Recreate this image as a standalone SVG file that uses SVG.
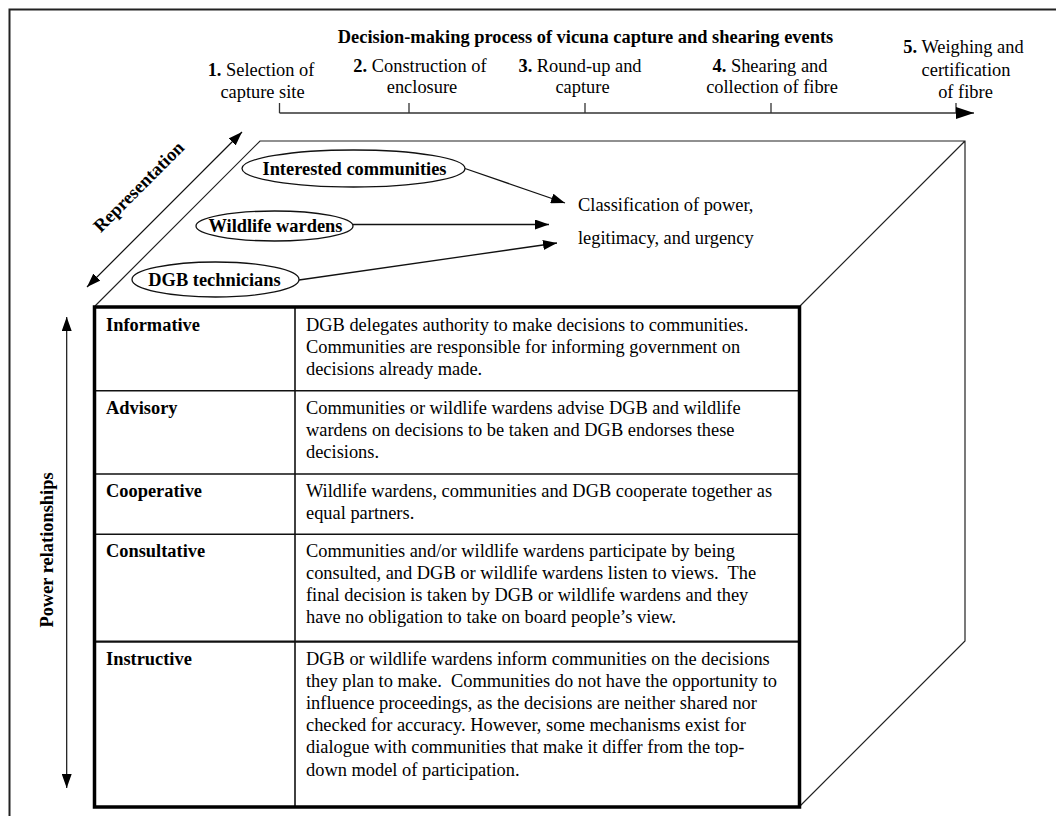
<svg xmlns="http://www.w3.org/2000/svg" width="1056" height="816" viewBox="0 0 1056 816">
<defs>
<marker id="ah" viewBox="0 0 14 10" refX="14" refY="5" markerWidth="14" markerHeight="10" markerUnits="userSpaceOnUse" orient="auto-start-reverse"><path d="M0,0 L14,5 L0,10 z" fill="#000"/></marker>
<marker id="ahBig" viewBox="0 0 18 12" refX="18" refY="6" markerWidth="18" markerHeight="12" markerUnits="userSpaceOnUse" orient="auto"><path d="M0,0 L18,6 L0,12 z" fill="#000"/></marker>
</defs>
<style>
text{font-family:"Liberation Serif","Times New Roman",serif;font-size:18.4px;fill:#000}
.b{font-weight:bold}
.m{text-anchor:middle}
.d{white-space:pre}
.thin{fill:none;stroke:#222;stroke-width:1.2}
.ell{fill:#fff;stroke:#111;stroke-width:1.3}
.conn{fill:none;stroke:#111;stroke-width:1.3}
.grid{stroke:#111;stroke-width:1.6}
</style>
<rect x="0" y="0" width="1056" height="816" fill="#fff"/>
<rect x="9.5" y="9.5" width="1060" height="820" fill="none" stroke="#222" stroke-width="2"/>

<g id="timeline">
<text class="b m" x="585.5" y="43.3">Decision-making process of vicuna capture and shearing events</text>
<text class="m" x="261" y="76"><tspan class="b">1.</tspan> Selection of</text>
<text class="m" x="262.5" y="97.5">capture site</text>
<text class="m" x="420" y="71.5"><tspan class="b">2.</tspan> Construction of</text>
<text class="m" x="422" y="93">enclosure</text>
<text class="m" x="580" y="71.5"><tspan class="b">3.</tspan> Round-up and</text>
<text class="m" x="582.5" y="93">capture</text>
<text class="m" x="770" y="71.5"><tspan class="b">4.</tspan> Shearing and</text>
<text class="m" x="772" y="93">collection of fibre</text>
<text class="m" x="963.5" y="53"><tspan class="b">5.</tspan> Weighing and</text>
<text class="m" x="966" y="75.5">certification</text>
<text class="m" x="965.5" y="98">of fibre</text>
<path d="M279.5,103 V113 M409,103 V113 M585,103 V113 M771,103 V113 M956,103 V113" stroke="#333" stroke-width="1.3" fill="none"/>
<line x1="279.5" y1="113" x2="974" y2="113" stroke="#333" stroke-width="1.5" marker-end="url(#ahBig)"/>
</g>

<g id="cube">
<path class="thin" d="M95,306 L260,141 L965,141 L965,641 L800,806 M800,306 L965,141"/>
</g>

<g id="representation-axis">
<line x1="87" y1="287" x2="242" y2="132" stroke="#111" stroke-width="1.2" marker-start="url(#ah)" marker-end="url(#ah)"/>
<text class="b m" x="0" y="0" transform="translate(143,191) rotate(-45)">Representation</text>
</g>

<g id="power-axis">
<line x1="66.7" y1="317" x2="66.7" y2="788" stroke="#111" stroke-width="1.2" marker-start="url(#ah)" marker-end="url(#ah)"/>
<text class="b m" x="0" y="0" transform="translate(52.5,550) rotate(-90)">Power relationships</text>
</g>

<g id="node-interested">
<ellipse class="ell" cx="353.5" cy="168.5" rx="111.5" ry="18.5"/>
<text class="b m" x="354.5" y="175">Interested communities</text>
</g>
<g id="node-wardens">
<ellipse class="ell" cx="274.5" cy="226" rx="78.5" ry="15"/>
<text class="b m" x="275.5" y="232">Wildlife wardens</text>
</g>
<g id="node-dgb">
<ellipse class="ell" cx="215.5" cy="279.5" rx="83.5" ry="17.5"/>
<text class="b m" x="214.5" y="286">DGB technicians</text>
</g>
<g id="node-classification">
<text x="578" y="211">Classification of power,</text>
<text x="578" y="244">legitimacy, and urgency</text>
</g>

<g id="connectors">
<line class="conn" x1="465" y1="168.5" x2="565" y2="203" marker-end="url(#ah)"/>
<line class="conn" x1="353" y1="224.5" x2="549" y2="224.5" marker-end="url(#ah)"/>
<line class="conn" x1="299" y1="280" x2="557" y2="243" marker-end="url(#ah)"/>
</g>

<g id="table">
<rect x="94.5" y="307" width="705" height="500" fill="#fff" stroke="none"/>
<path class="grid" d="M295,307 V807"/>
<path class="grid" d="M94.5,390.7 H799.5 M94.5,474 H799.5 M94.5,534.3 H799.5"/>
<path stroke="#111" stroke-width="2.2" d="M94.5,641.7 H799.5"/>
<rect x="94.5" y="307" width="705" height="500" fill="none" stroke="#000" stroke-width="3.5"/>
</g>

<g id="row-informative">
<text class="b" x="106" y="330.7">Informative</text>
<text class="d" x="306" y="330.7">DGB delegates authority to make decisions to communities.</text>
<text class="d" x="306" y="352.7">Communities are responsible for informing government on</text>
<text class="d" x="306" y="374.7">decisions already made.</text>
</g>
<g id="row-advisory">
<text class="b" x="106" y="413.5">Advisory</text>
<text class="d" x="306" y="413.5">Communities or wildlife wardens advise DGB and wildlife</text>
<text class="d" x="306" y="435.5">wardens on decisions to be taken and DGB endorses these</text>
<text class="d" x="306" y="457.5">decisions.</text>
</g>
<g id="row-cooperative">
<text class="b" x="106" y="497">Cooperative</text>
<text class="d" x="306" y="497">Wildlife wardens, communities and DGB cooperate together as</text>
<text class="d" x="306" y="519">equal partners.</text>
</g>
<g id="row-consultative">
<text class="b" x="106" y="557">Consultative</text>
<text class="d" x="306" y="557">Communities and/or wildlife wardens participate by being</text>
<text class="d" x="306" y="579">consulted, and DGB or wildlife wardens listen to views.  The</text>
<text class="d" x="306" y="601">final decision is taken by DGB or wildlife wardens and they</text>
<text class="d" x="306" y="623">have no obligation to take on board people’s view.</text>
</g>
<g id="row-instructive">
<text class="b" x="106" y="665">Instructive</text>
<text class="d" x="306" y="664.5">DGB or wildlife wardens inform communities on the decisions</text>
<text class="d" x="306" y="686.7">they plan to make.  Communities do not have the opportunity to</text>
<text class="d" x="306" y="708.9">influence proceedings, as the decisions are neither shared nor</text>
<text class="d" x="306" y="731.1">checked for accuracy. However, some mechanisms exist for</text>
<text class="d" x="306" y="753.3">dialogue with communities that make it differ from the top-</text>
<text class="d" x="306" y="775.5">down model of participation.</text>
</g>
</svg>
